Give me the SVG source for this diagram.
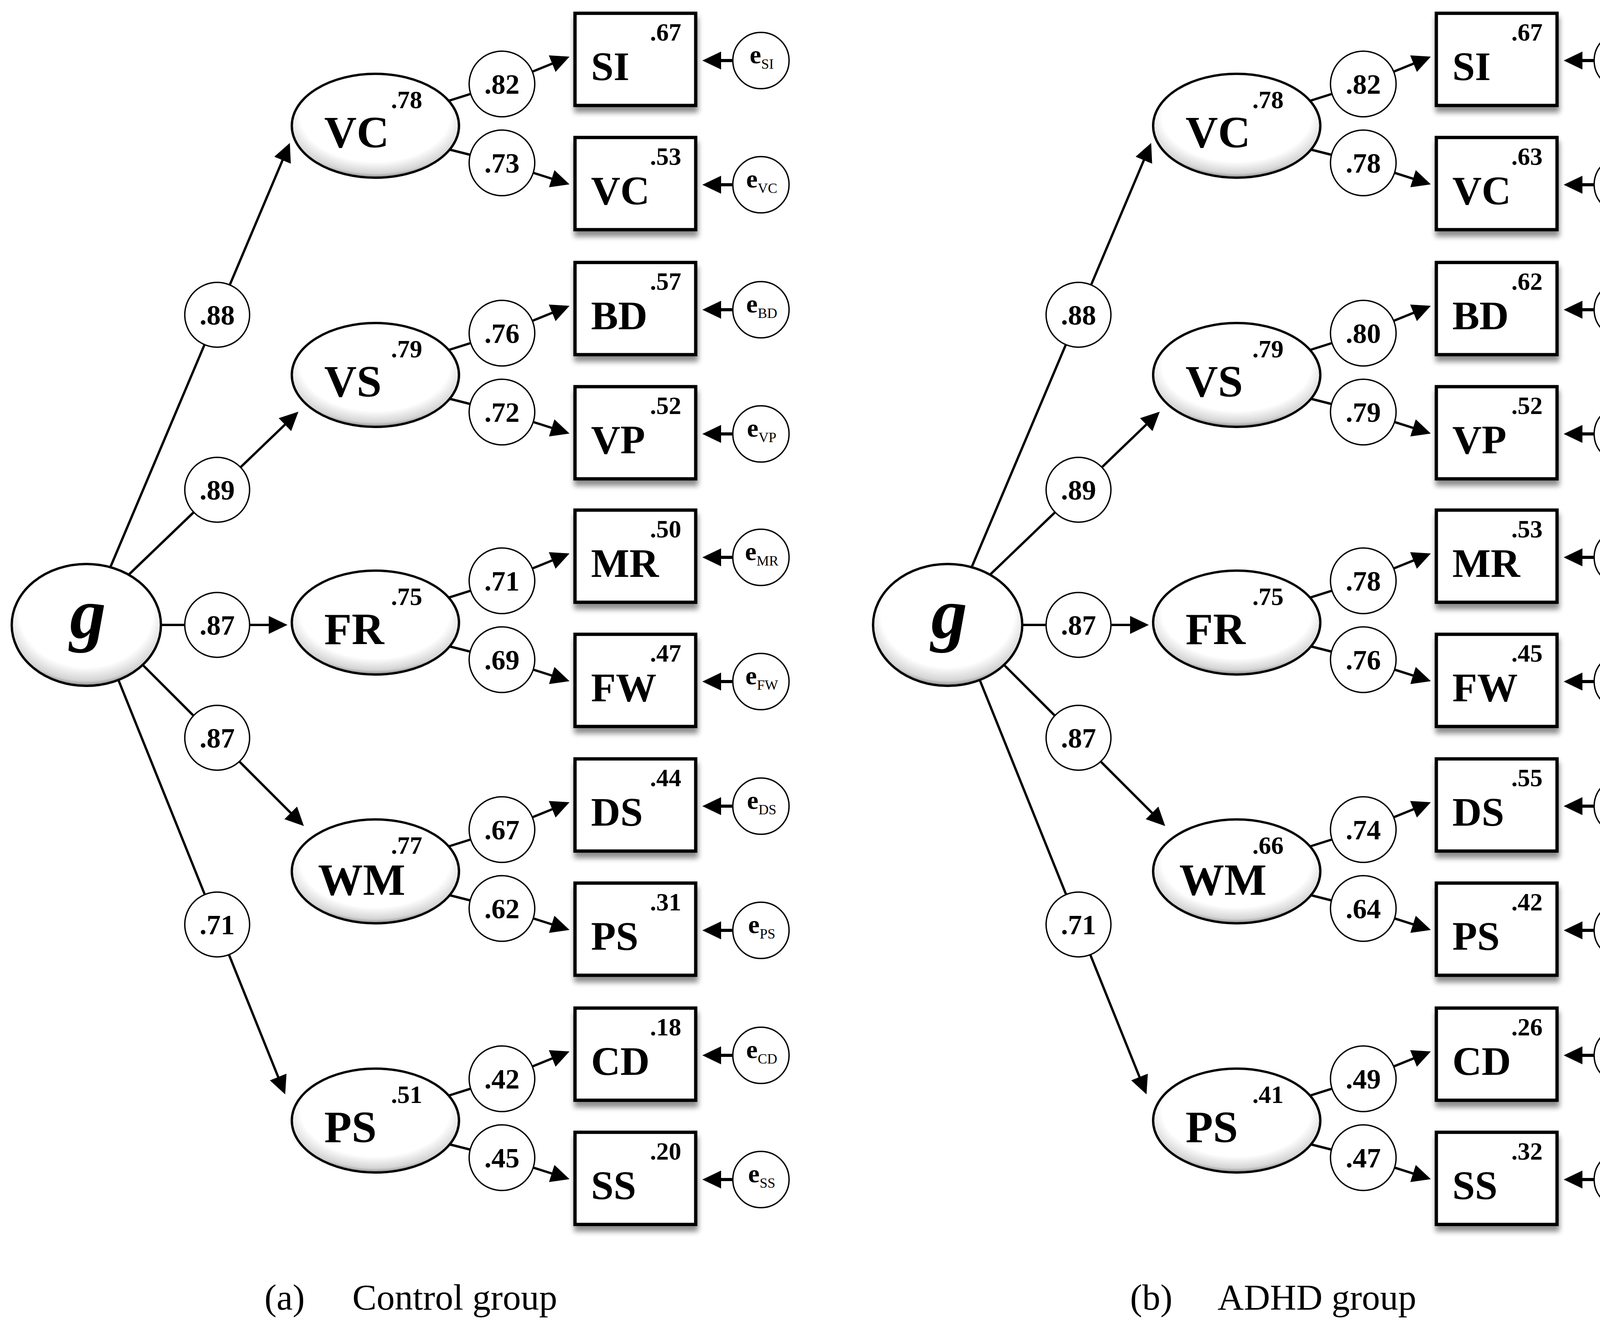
<svg xmlns="http://www.w3.org/2000/svg" width="4262" height="3395" viewBox="0 0 4262 3395">
<defs>
<radialGradient id="lg" cx="0.5" cy="0.4" r="0.62">
<stop offset="0" stop-color="#ffffff"/>
<stop offset="0.72" stop-color="#ffffff"/>
<stop offset="0.9" stop-color="#d4d4d4"/>
<stop offset="1" stop-color="#6a6a6a"/>
</radialGradient>
<filter id="sh" x="-10%" y="-10%" width="130%" height="140%">
<feGaussianBlur in="SourceAlpha" stdDeviation="7"/>
<feOffset dx="2" dy="14"/>
<feComponentTransfer><feFuncA type="linear" slope="0.45"/></feComponentTransfer>
<feMerge><feMergeNode/><feMergeNode in="SourceGraphic"/></feMerge>
</filter>
<marker id="ah" markerUnits="userSpaceOnUse" markerWidth="50" markerHeight="48" viewBox="0 0 50 48" refX="38" refY="23" orient="auto">
<path d="M0,0 L48,23 L0,46 Z" fill="#000"/>
</marker>
<style>
.lat{fill:url(#lg);stroke:#000;stroke-width:6}
.box{fill:#fff;stroke:#000;stroke-width:8.5;filter:url(#sh)}
.cir{fill:#fff;stroke:#000;stroke-width:3.5}
.conn{fill:none;stroke:#000;stroke-width:6;marker-end:url(#ah)}
.econn{fill:none;stroke:#000;stroke-width:8;marker-end:url(#ah)}
text{font-family:"Liberation Serif","Times New Roman",serif;fill:#000}
.g{font-size:185px;font-weight:bold;font-style:italic;text-anchor:middle}
.fl{font-size:115px;font-weight:bold}
.bl{font-size:104px;font-weight:bold}
.sup{font-size:64px;font-weight:bold;text-anchor:end}
.ld{font-size:72px;font-weight:bold;text-anchor:middle}
.et{font-size:66px;font-weight:bold;text-anchor:middle}
.sub{font-size:36px;font-weight:normal}
.cap{font-size:93px}
</style>
</defs>
<rect width="4262" height="3395" fill="#fff"/>

<g id="panel-a">
<g id="a-connectors">
<path class="conn" d="M283,1451 L738.1,375.2"/>
<path class="conn" d="M331,1470 L756.8,1060.9"/>
<path class="conn" d="M412,1600 L726,1600"/>
<path class="conn" d="M366,1703 L770.9,2107.9"/>
<path class="conn" d="M304,1743 L726.3,2792.7"/>
<path class="conn" d="M1149,258 L1285,215 L1448.7,148.7"/>
<path class="conn" d="M1151,383 L1285,417 L1448.5,469"/>
<path class="conn" d="M1149,896 L1285,853 L1448.7,786.7"/>
<path class="conn" d="M1151,1021 L1285,1055 L1448.5,1107"/>
<path class="conn" d="M1149,1530 L1285,1487 L1448.7,1420.7"/>
<path class="conn" d="M1151,1655 L1285,1689 L1448.5,1741"/>
<path class="conn" d="M1149,2167 L1285,2124 L1448.7,2057.7"/>
<path class="conn" d="M1151,2292 L1285,2326 L1448.5,2378"/>
<path class="conn" d="M1149,2805 L1285,2762 L1448.7,2695.7"/>
<path class="conn" d="M1151,2930 L1285,2964 L1448.5,3016"/>
<path class="econn" d="M1876,155 L1808,155"/>
<path class="econn" d="M1876,473 L1808,473"/>
<path class="econn" d="M1876,793 L1808,793"/>
<path class="econn" d="M1876,1111 L1808,1111"/>
<path class="econn" d="M1876,1427 L1808,1427"/>
<path class="econn" d="M1876,1745 L1808,1745"/>
<path class="econn" d="M1876,2064 L1808,2064"/>
<path class="econn" d="M1876,2382 L1808,2382"/>
<path class="econn" d="M1876,2702 L1808,2702"/>
<path class="econn" d="M1876,3020 L1808,3020"/>
</g>
<g id="a-labels">
<circle class="cir" cx="556" cy="806" r="83"/><text class="ld" x="556" y="831">.88</text>
<circle class="cir" cx="556" cy="1254" r="83"/><text class="ld" x="556" y="1279">.89</text>
<circle class="cir" cx="556" cy="1600" r="83"/><text class="ld" x="556" y="1625">.87</text>
<circle class="cir" cx="556" cy="1889" r="83"/><text class="ld" x="556" y="1914">.87</text>
<circle class="cir" cx="556" cy="2367" r="83"/><text class="ld" x="556" y="2392">.71</text>
<circle class="cir" cx="1285" cy="215" r="84"/><text class="ld" x="1285" y="240">.82</text>
<circle class="cir" cx="1285" cy="417" r="84"/><text class="ld" x="1285" y="442">.73</text>
<circle class="cir" cx="1285" cy="853" r="84"/><text class="ld" x="1285" y="878">.76</text>
<circle class="cir" cx="1285" cy="1055" r="84"/><text class="ld" x="1285" y="1080">.72</text>
<circle class="cir" cx="1285" cy="1487" r="84"/><text class="ld" x="1285" y="1512">.71</text>
<circle class="cir" cx="1285" cy="1689" r="84"/><text class="ld" x="1285" y="1714">.69</text>
<circle class="cir" cx="1285" cy="2124" r="84"/><text class="ld" x="1285" y="2149">.67</text>
<circle class="cir" cx="1285" cy="2326" r="84"/><text class="ld" x="1285" y="2351">.62</text>
<circle class="cir" cx="1285" cy="2762" r="84"/><text class="ld" x="1285" y="2787">.42</text>
<circle class="cir" cx="1285" cy="2964" r="84"/><text class="ld" x="1285" y="2989">.45</text>
</g>
<g id="a-g"><ellipse class="lat" cx="221" cy="1600" rx="191" ry="156"/><text class="g" x="225" y="1633">g</text></g>
<g id="a-VC"><ellipse class="lat" cx="961" cy="322" rx="214" ry="133"/><text class="fl" x="830" y="377">VC</text><text class="sup" x="1081" y="277">.78</text></g>
<g id="a-VS"><ellipse class="lat" cx="961" cy="960" rx="214" ry="133"/><text class="fl" x="830" y="1015">VS</text><text class="sup" x="1081" y="915">.79</text></g>
<g id="a-FR"><ellipse class="lat" cx="961" cy="1594" rx="214" ry="133"/><text class="fl" x="830" y="1649">FR</text><text class="sup" x="1081" y="1549">.75</text></g>
<g id="a-WM"><ellipse class="lat" cx="961" cy="2231" rx="214" ry="133"/><text class="fl" x="814" y="2291">WM</text><text class="sup" x="1081" y="2186">.77</text></g>
<g id="a-PS"><ellipse class="lat" cx="961" cy="2869" rx="214" ry="133"/><text class="fl" x="830" y="2924">PS</text><text class="sup" x="1081" y="2824">.51</text></g>

<g id="a-box-SI"><rect class="box" x="1472" y="34" width="309" height="236"/><text class="bl" x="1513" y="205">SI</text><text class="sup" x="1744" y="104">.67</text></g>
<g id="a-box-VC"><rect class="box" x="1472" y="352" width="309" height="236"/><text class="bl" x="1513" y="523">VC</text><text class="sup" x="1744" y="422">.53</text></g>
<g id="a-box-BD"><rect class="box" x="1472" y="672" width="309" height="236"/><text class="bl" x="1513" y="843">BD</text><text class="sup" x="1744" y="742">.57</text></g>
<g id="a-box-VP"><rect class="box" x="1472" y="990" width="309" height="236"/><text class="bl" x="1513" y="1161">VP</text><text class="sup" x="1744" y="1060">.52</text></g>
<g id="a-box-MR"><rect class="box" x="1472" y="1306" width="309" height="236"/><text class="bl" x="1513" y="1477">MR</text><text class="sup" x="1744" y="1376">.50</text></g>
<g id="a-box-FW"><rect class="box" x="1472" y="1624" width="309" height="236"/><text class="bl" x="1513" y="1795">FW</text><text class="sup" x="1744" y="1694">.47</text></g>
<g id="a-box-DS"><rect class="box" x="1472" y="1943" width="309" height="236"/><text class="bl" x="1513" y="2114">DS</text><text class="sup" x="1744" y="2013">.44</text></g>
<g id="a-box-PS"><rect class="box" x="1472" y="2261" width="309" height="236"/><text class="bl" x="1513" y="2432">PS</text><text class="sup" x="1744" y="2331">.31</text></g>
<g id="a-box-CD"><rect class="box" x="1472" y="2581" width="309" height="236"/><text class="bl" x="1513" y="2752">CD</text><text class="sup" x="1744" y="2651">.18</text></g>
<g id="a-box-SS"><rect class="box" x="1472" y="2899" width="309" height="236"/><text class="bl" x="1513" y="3070">SS</text><text class="sup" x="1744" y="2969">.20</text></g>

<g id="a-e-SI"><circle class="cir" cx="1948" cy="155" r="72"/><text class="et" x="1950" y="162">e<tspan class="sub" dy="14">SI</tspan></text></g>
<g id="a-e-VC"><circle class="cir" cx="1948" cy="473" r="72"/><text class="et" x="1950" y="480">e<tspan class="sub" dy="14">VC</tspan></text></g>
<g id="a-e-BD"><circle class="cir" cx="1948" cy="793" r="72"/><text class="et" x="1950" y="800">e<tspan class="sub" dy="14">BD</tspan></text></g>
<g id="a-e-VP"><circle class="cir" cx="1948" cy="1111" r="72"/><text class="et" x="1950" y="1118">e<tspan class="sub" dy="14">VP</tspan></text></g>
<g id="a-e-MR"><circle class="cir" cx="1948" cy="1427" r="72"/><text class="et" x="1950" y="1434">e<tspan class="sub" dy="14">MR</tspan></text></g>
<g id="a-e-FW"><circle class="cir" cx="1948" cy="1745" r="72"/><text class="et" x="1950" y="1752">e<tspan class="sub" dy="14">FW</tspan></text></g>
<g id="a-e-DS"><circle class="cir" cx="1948" cy="2064" r="72"/><text class="et" x="1950" y="2071">e<tspan class="sub" dy="14">DS</tspan></text></g>
<g id="a-e-PS"><circle class="cir" cx="1948" cy="2382" r="72"/><text class="et" x="1950" y="2389">e<tspan class="sub" dy="14">PS</tspan></text></g>
<g id="a-e-CD"><circle class="cir" cx="1948" cy="2702" r="72"/><text class="et" x="1950" y="2709">e<tspan class="sub" dy="14">CD</tspan></text></g>
<g id="a-e-SS"><circle class="cir" cx="1948" cy="3020" r="72"/><text class="et" x="1950" y="3027">e<tspan class="sub" dy="14">SS</tspan></text></g>
<g id="a-caption"><text class="cap" x="677" y="3353">(a)</text><text class="cap" x="902" y="3353">Control group</text></g>
</g>

<g id="panel-b" transform="translate(2205,0)">
<g id="b-connectors">
<path class="conn" d="M283,1451 L738.1,375.2"/>
<path class="conn" d="M331,1470 L756.8,1060.9"/>
<path class="conn" d="M412,1600 L726,1600"/>
<path class="conn" d="M366,1703 L770.9,2107.9"/>
<path class="conn" d="M304,1743 L726.3,2792.7"/>
<path class="conn" d="M1149,258 L1285,215 L1448.7,148.7"/>
<path class="conn" d="M1151,383 L1285,417 L1448.5,469"/>
<path class="conn" d="M1149,896 L1285,853 L1448.7,786.7"/>
<path class="conn" d="M1151,1021 L1285,1055 L1448.5,1107"/>
<path class="conn" d="M1149,1530 L1285,1487 L1448.7,1420.7"/>
<path class="conn" d="M1151,1655 L1285,1689 L1448.5,1741"/>
<path class="conn" d="M1149,2167 L1285,2124 L1448.7,2057.7"/>
<path class="conn" d="M1151,2292 L1285,2326 L1448.5,2378"/>
<path class="conn" d="M1149,2805 L1285,2762 L1448.7,2695.7"/>
<path class="conn" d="M1151,2930 L1285,2964 L1448.5,3016"/>
<path class="econn" d="M1876,155 L1808,155"/>
<path class="econn" d="M1876,473 L1808,473"/>
<path class="econn" d="M1876,793 L1808,793"/>
<path class="econn" d="M1876,1111 L1808,1111"/>
<path class="econn" d="M1876,1427 L1808,1427"/>
<path class="econn" d="M1876,1745 L1808,1745"/>
<path class="econn" d="M1876,2064 L1808,2064"/>
<path class="econn" d="M1876,2382 L1808,2382"/>
<path class="econn" d="M1876,2702 L1808,2702"/>
<path class="econn" d="M1876,3020 L1808,3020"/>
</g>
<g id="b-labels">
<circle class="cir" cx="556" cy="806" r="83"/><text class="ld" x="556" y="831">.88</text>
<circle class="cir" cx="556" cy="1254" r="83"/><text class="ld" x="556" y="1279">.89</text>
<circle class="cir" cx="556" cy="1600" r="83"/><text class="ld" x="556" y="1625">.87</text>
<circle class="cir" cx="556" cy="1889" r="83"/><text class="ld" x="556" y="1914">.87</text>
<circle class="cir" cx="556" cy="2367" r="83"/><text class="ld" x="556" y="2392">.71</text>
<circle class="cir" cx="1285" cy="215" r="84"/><text class="ld" x="1285" y="240">.82</text>
<circle class="cir" cx="1285" cy="417" r="84"/><text class="ld" x="1285" y="442">.78</text>
<circle class="cir" cx="1285" cy="853" r="84"/><text class="ld" x="1285" y="878">.80</text>
<circle class="cir" cx="1285" cy="1055" r="84"/><text class="ld" x="1285" y="1080">.79</text>
<circle class="cir" cx="1285" cy="1487" r="84"/><text class="ld" x="1285" y="1512">.78</text>
<circle class="cir" cx="1285" cy="1689" r="84"/><text class="ld" x="1285" y="1714">.76</text>
<circle class="cir" cx="1285" cy="2124" r="84"/><text class="ld" x="1285" y="2149">.74</text>
<circle class="cir" cx="1285" cy="2326" r="84"/><text class="ld" x="1285" y="2351">.64</text>
<circle class="cir" cx="1285" cy="2762" r="84"/><text class="ld" x="1285" y="2787">.49</text>
<circle class="cir" cx="1285" cy="2964" r="84"/><text class="ld" x="1285" y="2989">.47</text>
</g>
<g id="b-g"><ellipse class="lat" cx="221" cy="1600" rx="191" ry="156"/><text class="g" x="225" y="1633">g</text></g>
<g id="b-VC"><ellipse class="lat" cx="961" cy="322" rx="214" ry="133"/><text class="fl" x="830" y="377">VC</text><text class="sup" x="1081" y="277">.78</text></g>
<g id="b-VS"><ellipse class="lat" cx="961" cy="960" rx="214" ry="133"/><text class="fl" x="830" y="1015">VS</text><text class="sup" x="1081" y="915">.79</text></g>
<g id="b-FR"><ellipse class="lat" cx="961" cy="1594" rx="214" ry="133"/><text class="fl" x="830" y="1649">FR</text><text class="sup" x="1081" y="1549">.75</text></g>
<g id="b-WM"><ellipse class="lat" cx="961" cy="2231" rx="214" ry="133"/><text class="fl" x="814" y="2291">WM</text><text class="sup" x="1081" y="2186">.66</text></g>
<g id="b-PS"><ellipse class="lat" cx="961" cy="2869" rx="214" ry="133"/><text class="fl" x="830" y="2924">PS</text><text class="sup" x="1081" y="2824">.41</text></g>

<g id="b-box-SI"><rect class="box" x="1472" y="34" width="309" height="236"/><text class="bl" x="1513" y="205">SI</text><text class="sup" x="1744" y="104">.67</text></g>
<g id="b-box-VC"><rect class="box" x="1472" y="352" width="309" height="236"/><text class="bl" x="1513" y="523">VC</text><text class="sup" x="1744" y="422">.63</text></g>
<g id="b-box-BD"><rect class="box" x="1472" y="672" width="309" height="236"/><text class="bl" x="1513" y="843">BD</text><text class="sup" x="1744" y="742">.62</text></g>
<g id="b-box-VP"><rect class="box" x="1472" y="990" width="309" height="236"/><text class="bl" x="1513" y="1161">VP</text><text class="sup" x="1744" y="1060">.52</text></g>
<g id="b-box-MR"><rect class="box" x="1472" y="1306" width="309" height="236"/><text class="bl" x="1513" y="1477">MR</text><text class="sup" x="1744" y="1376">.53</text></g>
<g id="b-box-FW"><rect class="box" x="1472" y="1624" width="309" height="236"/><text class="bl" x="1513" y="1795">FW</text><text class="sup" x="1744" y="1694">.45</text></g>
<g id="b-box-DS"><rect class="box" x="1472" y="1943" width="309" height="236"/><text class="bl" x="1513" y="2114">DS</text><text class="sup" x="1744" y="2013">.55</text></g>
<g id="b-box-PS"><rect class="box" x="1472" y="2261" width="309" height="236"/><text class="bl" x="1513" y="2432">PS</text><text class="sup" x="1744" y="2331">.42</text></g>
<g id="b-box-CD"><rect class="box" x="1472" y="2581" width="309" height="236"/><text class="bl" x="1513" y="2752">CD</text><text class="sup" x="1744" y="2651">.26</text></g>
<g id="b-box-SS"><rect class="box" x="1472" y="2899" width="309" height="236"/><text class="bl" x="1513" y="3070">SS</text><text class="sup" x="1744" y="2969">.32</text></g>

<g id="b-e-SI"><circle class="cir" cx="1948" cy="155" r="72"/><text class="et" x="1950" y="162">e<tspan class="sub" dy="14">SI</tspan></text></g>
<g id="b-e-VC"><circle class="cir" cx="1948" cy="473" r="72"/><text class="et" x="1950" y="480">e<tspan class="sub" dy="14">VC</tspan></text></g>
<g id="b-e-BD"><circle class="cir" cx="1948" cy="793" r="72"/><text class="et" x="1950" y="800">e<tspan class="sub" dy="14">BD</tspan></text></g>
<g id="b-e-VP"><circle class="cir" cx="1948" cy="1111" r="72"/><text class="et" x="1950" y="1118">e<tspan class="sub" dy="14">VP</tspan></text></g>
<g id="b-e-MR"><circle class="cir" cx="1948" cy="1427" r="72"/><text class="et" x="1950" y="1434">e<tspan class="sub" dy="14">MR</tspan></text></g>
<g id="b-e-FW"><circle class="cir" cx="1948" cy="1745" r="72"/><text class="et" x="1950" y="1752">e<tspan class="sub" dy="14">FW</tspan></text></g>
<g id="b-e-DS"><circle class="cir" cx="1948" cy="2064" r="72"/><text class="et" x="1950" y="2071">e<tspan class="sub" dy="14">DS</tspan></text></g>
<g id="b-e-PS"><circle class="cir" cx="1948" cy="2382" r="72"/><text class="et" x="1950" y="2389">e<tspan class="sub" dy="14">PS</tspan></text></g>
<g id="b-e-CD"><circle class="cir" cx="1948" cy="2702" r="72"/><text class="et" x="1950" y="2709">e<tspan class="sub" dy="14">CD</tspan></text></g>
<g id="b-e-SS"><circle class="cir" cx="1948" cy="3020" r="72"/><text class="et" x="1950" y="3027">e<tspan class="sub" dy="14">SS</tspan></text></g>
<g id="b-caption"><text class="cap" x="688" y="3353">(b)</text><text class="cap" x="912" y="3353">ADHD group</text></g>
</g>
</svg>
